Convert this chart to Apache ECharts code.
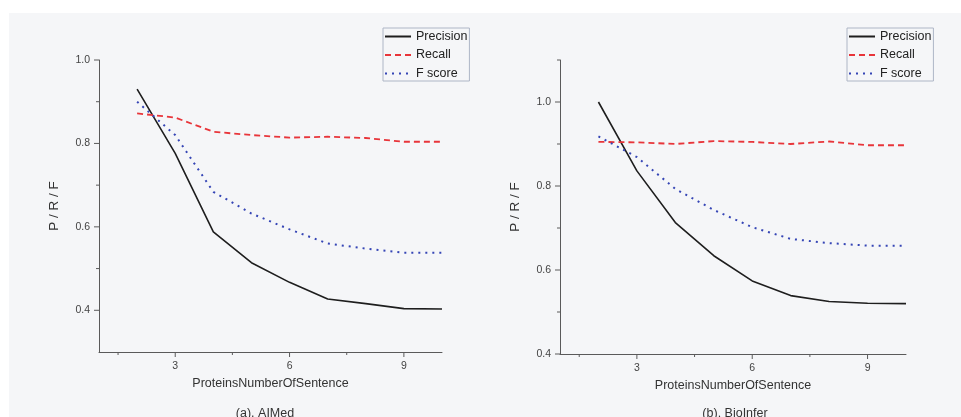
<!DOCTYPE html>
<html>
<head>
<meta charset="utf-8">
<script src="https://cdn.jsdelivr.net/npm/echarts@6/dist/echarts.min.js"></script>
<style>
html,body{margin:0;padding:0;background:#ffffff;}
#chart{width:961px;height:417px;}
</style>
</head>
<body>
<div id="chart"></div>
<script>
// ---- data ----
const xValues = [2, 3, 4, 5, 6, 7, 8, 9, 10];
const aimedPrecision = [0.93, 0.776, 0.588, 0.514, 0.467, 0.427, 0.416, 0.404, 0.403];
const aimedRecall    = [0.872, 0.862, 0.828, 0.820, 0.814, 0.816, 0.813, 0.804, 0.804];
const aimedFscore    = [0.90, 0.82, 0.684, 0.632, 0.594, 0.56, 0.548, 0.538, 0.538];
const bioPrecision   = [1.0, 0.836, 0.713, 0.634, 0.574, 0.539, 0.525, 0.521, 0.52];
const bioRecall      = [0.905, 0.904, 0.90, 0.907, 0.905, 0.90, 0.906, 0.897, 0.897];
const bioFscore      = [0.918, 0.869, 0.793, 0.743, 0.702, 0.674, 0.664, 0.658, 0.658];
const seriesNames = ['Precision', 'Recall', 'F score'];
const xMajorTicks = [3, 6, 9];
const xMinorTicks = [1.5, 4.5, 7.5];
const yMajorTicksA = [0.4, 0.6, 0.8, 1.0];
const yMinorTicksA = [0.5, 0.7, 0.9];
const yMajorTicksB = [0.4, 0.6, 0.8, 1.0];
const yMinorTicksB = [0.5, 0.7, 0.9, 1.1];
const panelTitles = ['(a). AIMed', '(b). BioInfer'];
const xName = 'ProteinsNumberOfSentence';
const yName = 'P / R / F';

const FONT = '"Liberation Sans", Arial, sans-serif';
const axisColor = '#5a5a5a';
const textColor = '#444';
const X_MIN = 1, X_MAX = 10;

function pairs(ys) { return xValues.map((x, i) => [x, ys[i]]); }

function xAxis(gridIndex) {
  return {
    type: 'value', gridIndex, min: X_MIN, max: X_MAX, position: 'bottom',
    name: xName, nameLocation: 'middle', nameGap: 25,
    nameTextStyle: { fontFamily: FONT, fontSize: 12.5, color: '#333' },
    axisLine: { show: true, onZero: false, lineStyle: { color: axisColor, width: 1 } },
    axisTick: { show: false },
    axisLabel: { show: true, customValues: xMajorTicks, margin: 9, fontFamily: FONT, fontSize: 10.5, color: textColor },
    splitLine: { show: false }
  };
}

function yAxis(gridIndex, min, max, major) {
  return {
    type: 'value', gridIndex, min, max, position: 'left',
    name: yName, nameLocation: 'middle', nameGap: 38, nameRotate: 90,
    nameTextStyle: { fontFamily: FONT, fontSize: 13.5, color: '#333' },
    axisLine: { show: true, onZero: false, lineStyle: { color: axisColor, width: 1 } },
    axisTick: { show: false },
    axisLabel: { show: true, customValues: major, margin: 9, fontFamily: FONT, fontSize: 10.5, color: textColor,
      formatter: v => v.toFixed(1) },
    splitLine: { show: false }
  };
}

// outward tick marks, positioned through the grid's own scales
function tickSeries(gridNo, yMin, yMajor, yMinor) {
  const xData = xMajorTicks.map(v => [v, yMin, 5]).concat(xMinorTicks.map(v => [v, yMin, 3]));
  const yData = yMajor.map(v => [X_MIN, v, 5]).concat(yMinor.map(v => [X_MIN, v, 3]));
  const common = {
    type: 'custom', xAxisIndex: gridNo, yAxisIndex: gridNo, silent: true, clip: false, z: 5,
    encode: { x: 0, y: 1 }
  };
  return [
    Object.assign({}, common, {
      data: xData,
      renderItem: (params, api) => {
        const p = api.coord([api.value(0), api.value(1)]);
        const len = api.value(2);
        return { type: 'line', shape: { x1: p[0], y1: p[1], x2: p[0], y2: p[1] + len },
          style: { stroke: axisColor, lineWidth: 1 } };
      }
    }),
    Object.assign({}, common, {
      data: yData,
      renderItem: (params, api) => {
        const p = api.coord([api.value(0), api.value(1)]);
        const len = api.value(2);
        return { type: 'line', shape: { x1: p[0] - len, y1: p[1], x2: p[0], y2: p[1] },
          style: { stroke: axisColor, lineWidth: 1 } };
      }
    })
  ];
}

const styles = [
  { color: '#1e1e1e', type: 'solid', width: 1.6 },
  { color: '#e8353a', type: [6, 4], width: 1.8 },
  { color: '#3545b5', type: [2, 5], width: 2 }
];

function makeSeries(gridNo, arrays) {
  return arrays.map((arr, i) => ({
    type: 'line',
    name: seriesNames[i],
    xAxisIndex: gridNo,
    yAxisIndex: gridNo,
    data: pairs(arr),
    symbol: 'none',
    showSymbol: false,
    smooth: false,
    silent: true,
    color: styles[i].color,
    lineStyle: { color: styles[i].color, type: styles[i].type, width: styles[i].width }
  }));
}

function legend(left) {
  return {
    left, top: 28, orient: 'vertical',
    data: seriesNames,
    itemWidth: 26, itemHeight: 12, itemGap: 5.5,
    padding: [2, 2, 1, 1],
    borderColor: '#aeb6c6', borderWidth: 1,
    itemStyle: { opacity: 0 },
    textStyle: { fontFamily: FONT, fontSize: 12.5, color: '#222' },
    selectedMode: false
  };
}

const chart = echarts.init(document.getElementById('chart'), null, { renderer: 'canvas' });
chart.setOption({
  animation: false,
  backgroundColor: '#ffffff',
  graphic: [{
    type: 'rect', z: -10, silent: true,
    shape: { x: 9, y: 13, width: 952, height: 404 },
    style: { fill: '#f5f6f8' }
  }],
  title: [
    { text: panelTitles[0], left: 260, top: 402, textAlign: 'center',
      textStyle: { fontFamily: FONT, fontSize: 12.5, fontWeight: 'normal', color: '#333' } },
    { text: panelTitles[1], left: 730, top: 402, textAlign: 'center',
      textStyle: { fontFamily: FONT, fontSize: 12.5, fontWeight: 'normal', color: '#333' } }
  ],
  legend: [legend(383), legend(847)],
  grid: [
    { left: 99, top: 60, width: 343, height: 292 },
    { left: 560, top: 60, width: 346, height: 294 }
  ],
  xAxis: [xAxis(0), xAxis(1)],
  yAxis: [yAxis(0, 0.3, 1.0, yMajorTicksA), yAxis(1, 0.4, 1.1, yMajorTicksB)],
  series: [
    ...makeSeries(0, [aimedPrecision, aimedRecall, aimedFscore]),
    ...makeSeries(1, [bioPrecision, bioRecall, bioFscore]),
    ...tickSeries(0, 0.3, yMajorTicksA, yMinorTicksA),
    ...tickSeries(1, 0.4, yMajorTicksB, yMinorTicksB)
  ]
});
</script>
</body>
</html>
